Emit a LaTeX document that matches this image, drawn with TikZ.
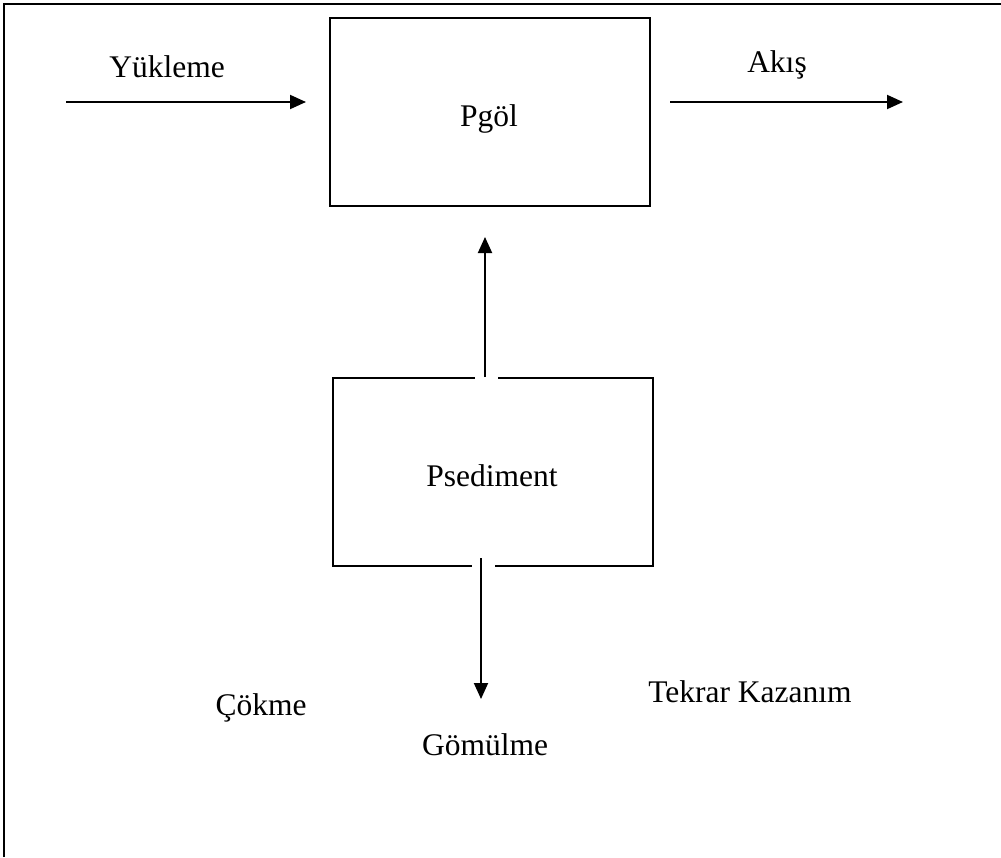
\documentclass[tikz,border=0pt]{standalone}
\usepackage{fontspec}
\setmainfont{Liberation Serif}
\usetikzlibrary{arrows.meta}
\begin{document}
\begin{tikzpicture}[x=1pt,y=-1pt,
  every node/.style={font=\fontsize{31.5}{38}\selectfont, inner sep=0pt},
  boxnode/.style={draw, line width=2pt, minimum width=320pt, minimum height=188pt},
  lbl/.style={anchor=base},
  arr/.style={line width=1.9pt, -{Triangle[length=16pt,width=14pt]}},
  frame/.style={line width=2.2pt},
  gap/.style={white, line width=5pt}]
\useasboundingbox (0,0) rectangle (1001,857);
% frame (top and left only)
\coordinate (fa) at (4,857);
\coordinate (fb) at (4,4);
\coordinate (fc) at (1001,4);
\draw[frame] (fa) -- (fb) -- (fc);
% boxes
\node[boxnode] (gol) at (490,112) {};
\node[boxnode] (sed) at (493,472) {};
\node[lbl] (tgol) at (489,126) {Pgöl};
\node[lbl] (tsed) at (492,486) {Psediment};
% gaps in the lower box edges
\coordinate (g1a) at (475,378);
\coordinate (g1b) at (498,378);
\coordinate (g2a) at (472,566);
\coordinate (g2b) at (495,566);
\draw[gap] (g1a) -- (g1b);
\draw[gap] (g2a) -- (g2b);
% arrows
\coordinate (yin) at (66,102);
\coordinate (yout) at (306,102);
\coordinate (ain) at (670,102);
\coordinate (aout) at (903,102);
\coordinate (uin) at (485,377);
\coordinate (uout) at (485,237);
\coordinate (din) at (481,558);
\coordinate (dout) at (481,699);
\draw[arr] (yin) -- (yout);
\draw[arr] (ain) -- (aout);
\draw[arr] (uin) -- (uout);
\draw[arr] (din) -- (dout);
% labels
\node[lbl] (lyuk) at (167,77) {Yükleme};
\node[lbl] (laki) at (777,72) {Akış};
\node[lbl] (lcok) at (261,715) {Çökme};
\node[lbl] (ltek) at (750,702) {Tekrar Kazanım};
\node[lbl] (lgom) at (485,755) {Gömülme};
\end{tikzpicture}
\end{document}
